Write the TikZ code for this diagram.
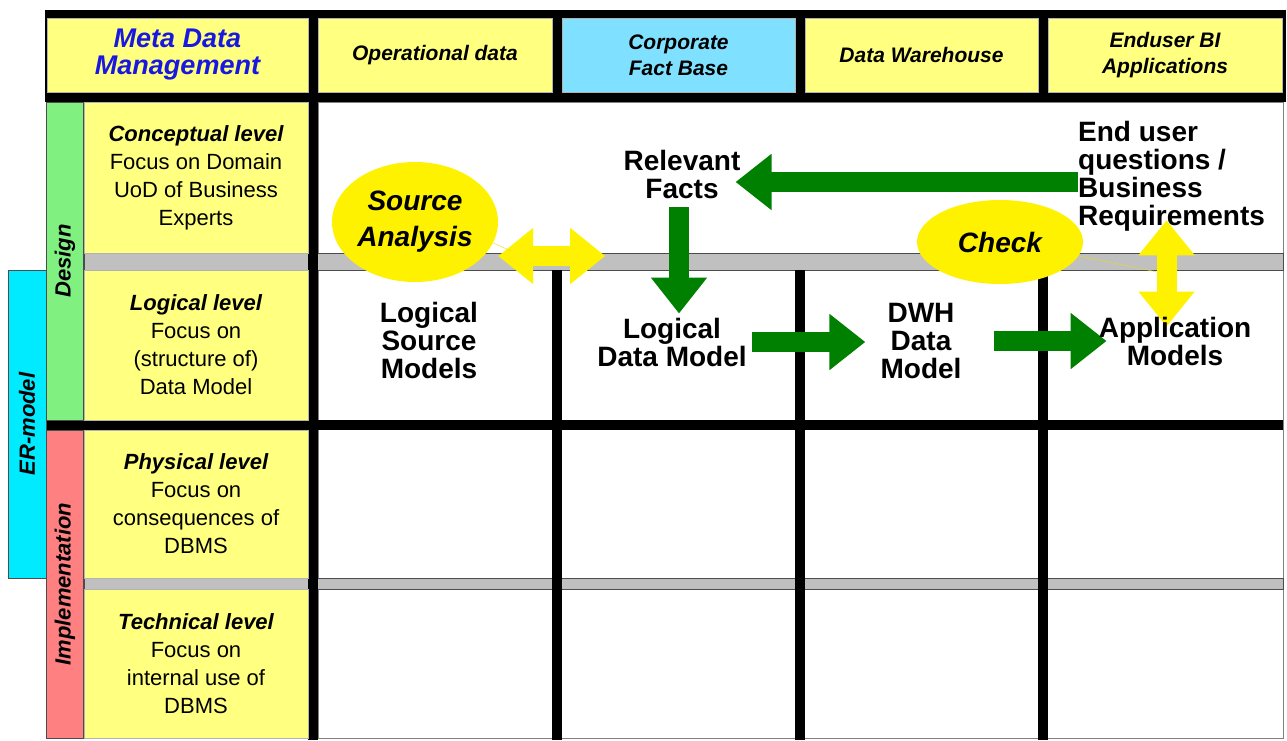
\documentclass[tikz,border=0pt]{standalone}
\usepackage{fontspec}
\setmainfont{Liberation Sans}
\usepackage{xcolor}
\usetikzlibrary{shapes.geometric,arrows.meta,calc}

\definecolor{cellyellow}{RGB}{255,255,128}
\definecolor{factblue}{RGB}{128,224,255}
\definecolor{designgreen}{RGB}{128,240,128}
\definecolor{implred}{RGB}{255,128,128}
\definecolor{ercyan}{RGB}{0,235,255}
\definecolor{bandgray}{RGB}{192,192,192}
\definecolor{arrowgreen}{RGB}{0,128,0}
\definecolor{metablue}{RGB}{24,24,224}

\pgfdeclarelayer{grid}
\pgfdeclarelayer{links}
\pgfsetlayers{grid,links,main}

\tikzset{
    head/.style={draw=gray!60, fill=cellyellow, minimum height=74pt, inner sep=0pt, outer sep=0pt,
        align=center, font=\fontsize{21}{26}\selectfont\bfseries\itshape},
    level/.style={draw=gray!60, fill=cellyellow, minimum width=224pt, inner sep=0pt, outer sep=0pt,
        align=center, font=\fontsize{22}{28}\selectfont},
    strip/.style={draw=black!70, rotate=90, inner sep=0pt, outer sep=0pt,
        font=\fontsize{22}{22}\selectfont\bfseries\itshape},
    body/.style={inner sep=0pt, align=center, font=\fontsize{28}{28}\selectfont\bfseries},
    bubble/.style={ellipse, fill=yellow, inner sep=0pt, align=center,
        font=\fontsize{28}{36}\selectfont\bfseries\itshape},
    greenarrow/.style={draw=arrowgreen, line width=20pt, -{Triangle[width=54pt,length=36pt]}},
    yellowarrow/.style={draw=yellow, line width=20pt,
        {Triangle[width=54pt,length=35pt]}-{Triangle[width=54pt,length=35pt]}},
}

\begin{document}
\begin{tikzpicture}[x=1pt,y=-1pt]
    \useasboundingbox (0,0) rectangle (1287,740);

    % Grid: frame, bands and column rules
    \begin{pgfonlayer}{grid}
        \fill[black] (45,10) rectangle (1286,102);
        \filldraw[fill=white, draw=gray] (318,102) rectangle (1283,738);
        \filldraw[fill=bandgray, draw=gray!60!black] (84,253) rectangle (1283,270);
        \filldraw[fill=bandgray, draw=gray!60!black] (84,578) rectangle (1283,589);
        \fill[black] (308,92) rectangle (318,740);
        \foreach \x in {552,795,1038} {
            \fill[black] (\x,270) rectangle (\x+10,740);
        }
        \fill[black] (45,420) rectangle (1283,430);
    \end{pgfonlayer}

    % Header row
    \node[head, minimum width=261pt, text=metablue, font=\fontsize{27}{27}\selectfont\bfseries\itshape]
        (meta) at (177.5,55) {Meta Data\\Management};
    \node[head, minimum width=234pt] (opdata) at (435,55) {Operational data};
    \node[head, minimum width=233pt, fill=factblue] (cfb) at (678.5,55) {Corporate\\Fact Base};
    \node[head, minimum width=233pt] (dwhead) at (921.5,55) {Data Warehouse};
    \node[head, minimum width=234pt] (bihead) at (1165,55) {Enduser BI\\Applications};

    % Side strips
    \node[strip, fill=designgreen, minimum width=318pt, minimum height=37pt] (design) at (65,261) {Design};
    \node[strip, fill=implred, minimum width=308pt, minimum height=37pt] (impl) at (65,584) {Implementation};
    \node[strip, fill=ercyan, minimum width=308pt, minimum height=38pt] (ermodel) at (27,424) {ER-model};

    % Level descriptions
    \node[level, minimum height=151pt] (concept) at (196,177.5)
        {{\bfseries\itshape Conceptual level}\\Focus on Domain\\UoD of Business\\Experts};
    \node[level, minimum height=150pt] (logic) at (196,345)
        {{\bfseries\itshape Logical level}\\Focus on\\(structure of)\\Data Model};
    \node[level, minimum height=148pt] (phys) at (196,504)
        {{\bfseries\itshape Physical level}\\Focus on\\consequences of\\DBMS};
    \node[level, minimum height=149pt] (tech) at (196,663.5)
        {{\bfseries\itshape Technical level}\\Focus on\\internal use of\\DBMS};

    % Models and facts
    \node[body] (lsm) at (429,340) {Logical\\Source\\Models};
    \node[body] (rel) at (682,174) {Relevant\\Facts};
    \node[body] (ldm) at (672,342) {Logical\\Data Model};
    \node[body] (dwh) at (921,341) {DWH\\Data\\Model};
    \node[body] (app) at (1175,341) {Application\\Models};
    \node[body, align=left, anchor=west] (req) at (1078,176)
        {End user\\questions /\\Business\\Requirements};

    % Analysis bubbles
    \node[bubble, minimum width=166pt, minimum height=120pt] (srcana) at (415,222) {Source\\Analysis};
    \node[bubble, minimum width=166pt, minimum height=84pt] (check) at (1000,242) {Check};

    % Arrows between the models
    \begin{pgfonlayer}{links}
        \draw[greenarrow] ($(req.west)+(0,6)$) -- ($(rel.east |- req.west)+(-5,6)$);
        \draw[greenarrow, shorten <=9pt] ($(rel.south)+(-3,0)$) -- ($(rel.south |- ldm.north)+(-3,-4)$);
        \draw[greenarrow, shorten <=5pt, shorten >=15pt] (ldm.east) -- (ldm.east -| dwh.west);
        \draw[greenarrow, shorten <=32pt, shorten >=-8pt] (dwh.east) -- (dwh.east -| app.west);

        % two-way checks
        \draw[yellowarrow] ([yshift=-34pt]srcana.east) -- ++(107,0);
        \draw[yellow!90!black, thin] (srcana.-15) -- ++(18,8);
        \draw[yellowarrow, shorten <=-11pt, shorten >=-10pt]
            ($(req.south)+(-5,0)$) -- ($(req.south |- app.north)+(-5,0)$);
        \draw[yellow!90!black, thin] (check.-10) -- ++(78,16);
    \end{pgfonlayer}
\end{tikzpicture}
\end{document}
